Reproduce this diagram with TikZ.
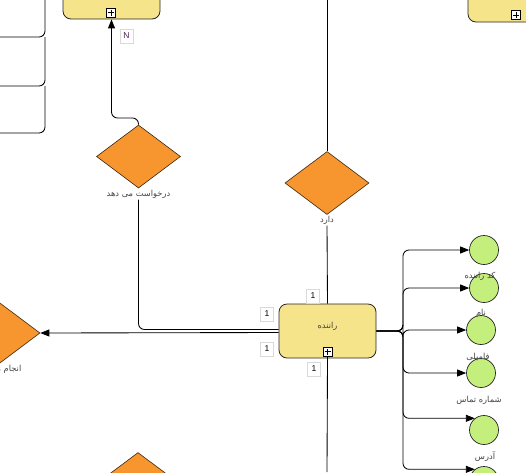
\documentclass[tikz,border=0pt]{standalone}
\usepackage{fontspec}
\newfontfamily\arabicfont[Script=Arabic]{DejaVu Sans}
\newfontfamily\labfont{Liberation Sans}
\TeXXeTstate=1
\usetikzlibrary{shapes.geometric,arrows.meta}
\definecolor{entyellow}{HTML}{F6E48A}
\definecolor{relorange}{HTML}{F7962E}
\definecolor{attrgreen}{HTML}{C4EF7C}
\definecolor{txtgray}{HTML}{444444}
\definecolor{nviolet}{HTML}{4A2352}
\begin{document}
\begin{tikzpicture}[x=1pt,y=-1pt,
  ent/.style={draw=black!85, fill=entyellow, rounded corners=8pt, minimum width=97pt, minimum height=54pt, inner sep=0pt, line width=0.8pt},
  rel/.style={diamond, draw=black!70!brown, fill=relorange, minimum width=84pt, minimum height=63pt, inner sep=0pt, line width=0.6pt},
  attr/.style={circle, draw=black!85, fill=attrgreen, minimum size=29pt, inner sep=0pt, line width=0.7pt},
  card/.style={draw=gray!30, fill=white, minimum width=13pt, minimum height=14pt, inner sep=1pt, font=\labfont\fontsize{8.5}{9}\selectfont},
  plusbox/.style={draw=black, fill=white, minimum size=9pt, inner sep=0pt, line width=0.7pt},
  lbl/.style={font=\arabicfont\fontsize{8.3}{9}\selectfont, text=txtgray, inner sep=1pt},
  conn/.style={draw=black, line width=0.85pt, rounded corners=6pt},
  arr/.style={-{Triangle[length=9pt,width=7pt]}}]
\useasboundingbox (0,0) rectangle (526,472);
\begin{scope}
\clip (0,0) rectangle (526,472);
% entities
\node[ent] (tl) at (111.5,-8) {};
\node[ent] (tr) at (516.5,-5) {};
\node[ent, label={[lbl,yshift=5pt]center:\beginR راننده\endR}] (drv) at (327.5,331) {};
% plus boxes
\node[plusbox] (ptl) at (111,12.5) {};
\node[plusbox] (ptr) at (516,15) {};
\node[plusbox] (pdrv) at (327.5,351.5) {};
\foreach \p in {ptl,ptr,pdrv}{
  \draw[line width=0.7pt] ([xshift=-3pt]\p.center) -- ([xshift=3pt]\p.center);
  \draw[line width=0.7pt] ([yshift=-3pt]\p.center) -- ([yshift=3pt]\p.center);
}
% relationships
\node[rel] (d1) at (138.5,156.5) {};
\node[lbl, anchor=north] (l1) at (138.5,189) {\beginR درخواست می دهد\endR};
\node[rel] (d2) at (327,183) {};
\node[lbl, anchor=north] (l2) at (327,215) {\beginR دارد\endR};
\node[rel] (d3) at (-2,333) {};
\node[lbl, anchor=north] (l3) at (-2,364) {\beginR انجام می دهد\endR};
\node[rel] (d4) at (138,484) {};
% attributes
\node[attr] (a1) at (484,250) {};
\node[attr] (a2) at (484,288) {};
\node[attr] (a3) at (481,330) {};
\node[attr] (a4) at (481,373) {};
\node[attr] (a5) at (484,430) {};
\node[attr] (a6) at (484,481) {};
\node[lbl] (t1) at (480,276) {\beginR کد راننده\endR};
\node[lbl] (t2) at (481,313) {\beginR نام\endR};
\node[lbl] (t3) at (478,357) {\beginR فامیلی\endR};
\node[lbl] (t4) at (479,400) {\beginR شماره تماس\endR};
\node[lbl] (t5) at (485,457) {\beginR آدرس\endR};
% coordinates
\coordinate (topd2) at (327,0);
\coordinate (botd) at (327,472);
\coordinate (bus) at (403,331);
\coordinate (b0) at (45,0);
\coordinate (b1) at (45,37);
\coordinate (b2) at (45,86);
\coordinate (b3) at (45,133);
\coordinate (e1) at (0,37);
\coordinate (e2) at (0,86);
\coordinate (e3) at (0,133);
% connectors
\draw[conn] (b0) -- (b1) -- (e1);
\draw[conn] (b1) -- (b2) -- (e2);
\draw[conn] (b2) -- (b3) -- (e3);
\draw[conn,arr] (d1.north) -- (138.5,118) -| (tl.south);
\draw[conn] (l1.south) |- ([yshift=1.5pt]drv.west);
\draw[conn,arr] ([yshift=-1.5pt]drv.west) -- (d3.east);
\draw[conn] (d2.north) -- (topd2);
\draw[conn] (l2.south) -- (drv.north);
\draw[conn] (pdrv.south) -- (botd);
\draw[conn,arr] (drv.east) -- (bus) |- (a1.west);
\draw[conn,arr] (drv.east) -- (bus) |- (a2.west);
\draw[conn,arr] (drv.east) -- (bus) |- (a3.west);
\draw[conn,arr] (drv.east) -- (bus) |- (a4.west);
\draw[conn,arr] (drv.east) -- (bus) |- (a5.128);
\draw[conn,arr] (drv.east) -- (bus) |- (a6.128);
% cardinalities
\node[card, text=nviolet] (cn) at (126.5,36) {N};
\node[card] (c1) at (313,296) {1};
\node[card] (c2) at (267,314) {1};
\node[card] (c3) at (267,349) {1};
\node[card] (c4) at (314,369) {1};
\end{scope}
\end{tikzpicture}
\end{document}
